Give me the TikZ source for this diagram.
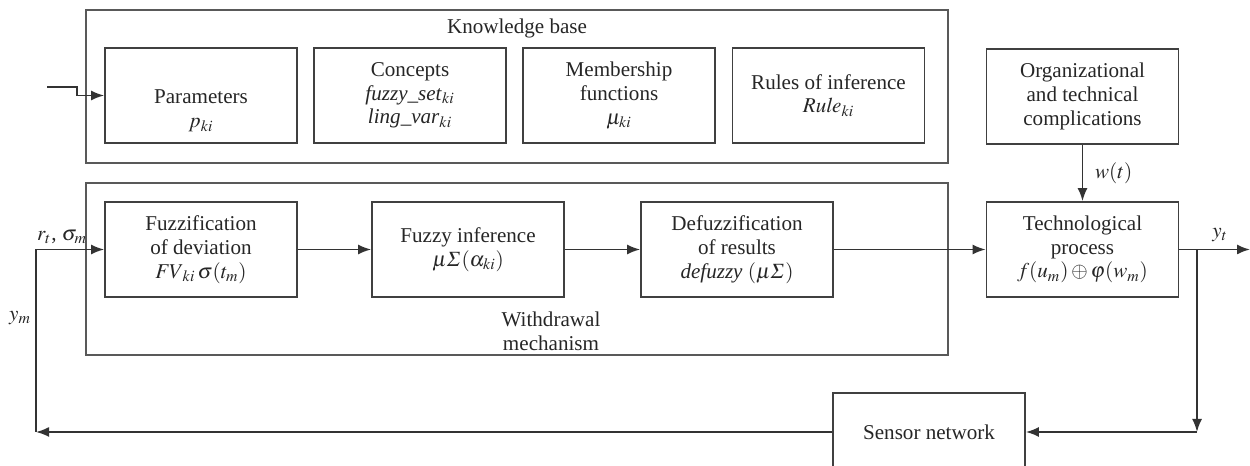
\documentclass[tikz,border=0pt]{standalone}
\usepackage{amsmath}
\usepackage{mathptmx}
\usepackage{fontspec}
\setmainfont{Liberation Serif}
\usetikzlibrary{arrows.meta}

\tikzset{
	block/.style={draw=black!75, line width=0.35mm, text=black!85, align=center, minimum width=38.4mm, minimum height=19mm, inner sep=1pt, font=\fontsize{12}{13.5}\selectfont},
	frame/.style={draw=black!65, line width=0.35mm},
	lab/.style={text=black!85, inner sep=1pt, align=center, font=\fontsize{12}{13.5}\selectfont},
	arr/.style={draw=black!80, line width=0.35mm, -{Latex[length=2.6mm,width=2mm]}},
}

\begin{document}
\begin{tikzpicture}[x=0.2mm, y=-0.2mm]
			%%%%% START %%%%%
			\useasboundingbox (0, 0) rectangle (1250, 466);
			
			\draw[frame] (86, 10) rectangle (948, 163);
			\node[lab] (kbtitle) at (517, 28) {Knowledge base};
			\node[block] (par) at (201, 95.5) {\mbox{}\\[12pt] Parameters\\ $p_{ki}$};
			\node[block] (conc) at (410, 95.5) {Concepts\\ \textit{fuzzy\_set}$_{ki}$\\ \textit{ling\_var}$_{ki}$};
			\node[block] (memb) at (619, 95.5) {Membership\\ functions\\ $\mu_{ki}$};
			\node[block] (rules) at (828.5, 95.5) {Rules of inference\\ $\mathit{Rule}_{ki}$};
			
			\draw[frame] (86, 183) rectangle (948, 355);
			\node[lab] (wmtitle) at (551, 331) {Withdrawal\\ mechanism};
			\node[block] (fuz) at (201, 249.5) {Fuzzification\\ of deviation\\ $\mathit{FV}_{ki}\,\sigma(t_m)$};
			\node[block] (inf) at (468, 249.5) {Fuzzy inference\\ $\mu\varSigma(\alpha_{ki})$};
			\node[block] (def) at (737, 249.5) {Defuzzification\\ of results\\ \textit{defuzzy} $(\mu\varSigma)$};
			
			\node[block] (org) at (1082.5, 96.5) {Organizational\\ and technical\\ complications};
			\node[block] (tech) at (1082.5, 249.5) {Technological\\ process\\ $f(u_m)\oplus\varphi(w_m)$};
			\node[block, minimum height=15.6mm] (sens) at (929, 432) {Sensor network};
			
			\coordinate (in) at (47, 87);
			\coordinate (inb) at (77, 87);
			\coordinate (out) at (1250, 249.5);
			\coordinate (br) at (1197, 249.5);
			\coordinate (brd) at (1197, 432);
			\coordinate (fb) at (36, 432);
			
			\draw[arr] (in) -- (inb) |- (par.west);
			\draw[arr] (fuz) -- (inf);
			\draw[arr] (inf) -- (def);
			\draw[arr] (def) -- (tech);
			\draw[arr] (org) -- node[lab, right=2mm] {$w(t)$} (tech);
			\draw[arr] (tech) -- (out);
			\draw[arr] (br) -- (brd);
			\draw[arr] (brd) -- (sens);
			\draw[arr] (sens) -- (fb);
			\draw[arr] (fb) |- (fuz.west);
			
			\node[lab] (yt) at (1220, 235) {$y_t$};
			\node[lab] (rt) at (62, 237) {$r_t$, $\sigma_m$};
			\node[lab] (ym) at (20, 318) {$y_m$};
			%%%%% END %%%%%
\end{tikzpicture}
\end{document}
